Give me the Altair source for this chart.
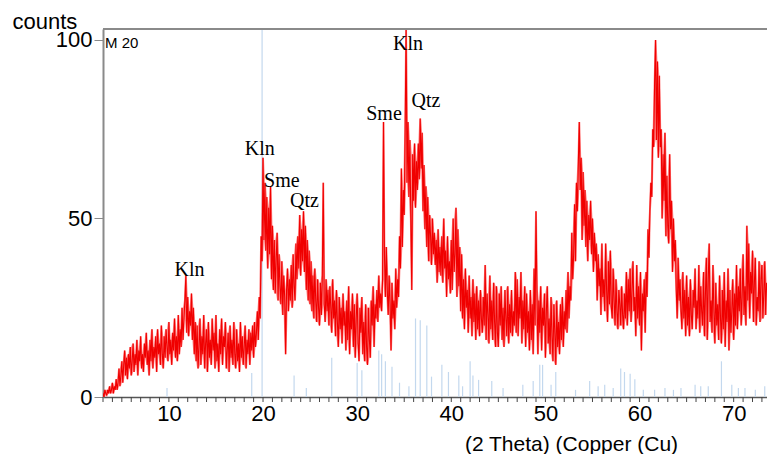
import altair as alt
import pandas as pd

# ---- data (2-theta from 3.0 in steps of 0.1) ----
x_start = 3.0
x_step = 0.1
counts = [
    1, 0, 2, 1, 0.5, 2, 1, 3, 1, 2, 4, 1, 3, 2, 5, 2, 4, 8, 3, 6,
    10, 4, 9, 13, 6, 11, 5, 12, 8, 14, 6, 10, 15, 7, 12, 9, 16, 6, 13, 10,
    17, 8, 12, 7, 15, 11, 18, 9, 13, 6, 16, 10, 19, 8, 14, 11, 17, 7, 19, 12,
    15, 9, 20, 12, 8, 17, 11, 19, 14, 10, 21, 12, 16, 9, 18, 13, 22, 11, 17, 10,
    23, 12, 19, 14, 25, 16, 22, 27, 34, 18, 28, 17, 24, 20, 29, 16, 25, 12, 21, 10,
    20, 8, 14, 22, 9, 17, 12, 23, 8, 15, 19, 7, 21, 11, 16, 9, 22, 13, 18, 8,
    23, 10, 15, 7, 19, 12, 22, 9, 17, 14, 21, 8, 13, 18, 7, 20, 11, 16, 9, 21,
    12, 8, 19, 10, 15, 7, 21, 11, 17, 9, 14, 20, 8, 16, 12, 19, 9, 18, 13, 20,
    11, 21, 14, 18, 24, 16, 28, 22, 45, 38, 67, 44, 60, 41, 56, 36, 53, 40, 59, 33,
    48, 30, 44, 29, 39, 46, 27, 40, 31, 26, 38, 23, 34, 28, 12, 30, 36, 24, 33, 27,
    37, 25, 40, 31, 27, 43, 33, 45, 36, 51, 34, 47, 38, 52, 35, 48, 30, 44, 27, 41,
    26, 38, 24, 34, 22, 36, 27, 21, 33, 25, 20, 32, 23, 34, 60, 26, 21, 33, 24, 30,
    20, 31, 25, 18, 33, 22, 27, 17, 30, 21, 14, 28, 19, 25, 15, 29, 20, 24, 13, 27,
    16, 31, 12, 24, 19, 29, 14, 26, 11, 22, 29, 15, 10, 25, 18, 28, 12, 21, 10, 26,
    14, 9, 25, 16, 11, 27, 20, 31, 14, 26, 22, 30, 21, 34, 25, 29, 24, 33, 77, 40,
    28, 42, 30, 23, 34, 26, 13, 32, 22, 27, 19, 36, 25, 33, 28, 45, 36, 64, 42, 58,
    51, 75, 103, 60, 77, 56, 72, 50, 30, 68, 55, 71, 53, 66, 58, 71, 61, 78, 64, 74,
    52, 65, 47, 59, 42, 56, 38, 51, 45, 37, 50, 40, 46, 37, 44, 32, 47, 35, 42, 34,
    45, 32, 50, 36, 41, 28, 45, 33, 38, 29, 44, 30, 50, 35, 40, 53, 28, 47, 31, 42,
    24, 40, 22, 33, 19, 36, 25, 30, 18, 34, 22, 28, 17, 33, 21, 29, 16, 31, 19, 27,
    17, 30, 22, 18, 28, 20, 37, 16, 29, 23, 15, 34, 19, 27, 16, 32, 21, 14, 31, 18,
    14, 29, 20, 31, 16, 25, 14, 30, 22, 17, 31, 15, 26, 18, 30, 17, 24, 20, 35, 18,
    33, 17, 28, 22, 35, 15, 27, 19, 31, 14, 29, 18, 24, 13, 30, 16, 26, 12, 36, 20,
    52, 30, 12, 27, 18, 31, 13, 25, 20, 29, 11, 24, 31, 15, 22, 12, 28, 17, 10, 26,
    18, 9, 27, 14, 21, 12, 26, 16, 28, 14, 24, 19, 30, 18, 35, 22, 31, 27, 46, 33,
    40, 54, 38, 60, 52, 66, 77, 58, 67, 44, 63, 48, 58, 42, 55, 38, 51, 44, 55, 40,
    50, 35, 46, 38, 43, 27, 40, 31, 36, 23, 43, 28, 33, 24, 43, 30, 21, 38, 26, 41,
    25, 22, 36, 27, 20, 33, 24, 19, 30, 26, 20, 31, 23, 19, 29, 22, 35, 20, 33, 24,
    36, 21, 30, 38, 24, 28, 17, 37, 22, 31, 20, 35, 13, 29, 24, 33, 18, 35, 28, 47,
    39, 52, 60, 56, 75, 70, 88, 100, 72, 94, 67, 90, 70, 75, 50, 68, 55, 74, 45, 62,
    48, 43, 68, 47, 55, 35, 50, 38, 44, 30, 22, 39, 27, 33, 24, 19, 35, 22, 30, 17,
    34, 20, 28, 17, 33, 23, 19, 30, 25, 36, 19, 27, 22, 37, 18, 31, 24, 20, 35, 17,
    29, 39, 16, 33, 43, 21, 27, 18, 37, 24, 15, 32, 20, 26, 16, 34, 22, 15, 30, 19,
    35, 14, 27, 21, 36, 13, 30, 18, 24, 33, 16, 29, 20, 37, 19, 31, 24, 36, 20, 28,
    40, 23, 31, 20, 48, 27, 43, 22, 35, 29, 41, 21, 32, 39, 20, 28, 24, 38, 21, 33,
    37, 22, 29, 38, 23, 32,
]
two_theta = [round(x_start + i * x_step, 2) for i in range(len(counts))]

stick_pos = [9.8, 18.8, 19.9, 23.3, 24.6, 27.3, 30.0, 30.5, 32.3, 32.6, 33.0,
             33.7, 34.5, 35.5, 36.2, 36.7, 37.4, 37.9, 39.0, 39.7, 40.8, 41.2,
             42.0, 42.3, 42.9, 44.3, 45.5, 47.6, 48.7, 49.4, 49.7, 50.6, 51.1,
             53.2, 54.7, 55.6, 56.3, 57.2, 58.0, 58.4, 59.0, 59.5, 60.4, 61.6,
             62.7, 63.6, 64.4, 65.9, 66.5, 67.3, 68.7, 69.8, 70.5, 71.2, 72.3,
             73.3]
stick_h = [2.5, 6.7, 103, 6, 2.5, 11, 9.5, 7.5, 13, 12, 10,
           8.5, 4, 3, 22, 21.5, 20, 5.7, 9, 7, 6, 3,
           10, 6, 4.8, 4.5, 2.5, 3.4, 4.5, 9, 9, 3.4, 7,
           2, 4.5, 3, 3.4, 2.5, 8, 7, 6.5, 5, 2, 2,
           2.5, 2, 2.5, 3.4, 3, 3, 10, 3.4, 2.5, 2.5, 2,
           3]

minor_ticks = list(range(3, 74))

ann_text = ["Kln", "Kln", "Sme", "Qtz", "Sme", "Kln", "Qtz"]
ann_x = [12.2, 19.65, 22.0, 24.4, 32.85, 35.4, 37.3]
ann_y = [33.9, 67.8, 58.8, 53.2, 77.6, 97.2, 81.2]

line_df = pd.DataFrame({"t": two_theta, "c": counts})
stick_df = pd.DataFrame({"t": stick_pos, "h": stick_h, "z": [0] * len(stick_pos)})
tick_df = pd.DataFrame({"t": minor_ticks})
ann_df = pd.DataFrame({"label": ann_text, "t": ann_x, "c": ann_y})

Y_TOP = 103.08
PLOT_H = 368
xscale = alt.Scale(domain=[3, 73.54], nice=False, zero=False)
yscale = alt.Scale(domain=[0, Y_TOP], nice=False)

x_axis = alt.Axis(
    values=[10, 20, 30, 40, 50, 60, 70],
    labelOverlap=False, ticks=False,
    labelPadding=6, labelFontSize=22,
    labelFont="Liberation Sans", labelColor="black",
    domainColor="#555555", domainWidth=1.5, grid=False,
    title="(2 Theta) (Copper (Cu)", titleFont="Liberation Sans",
    titleFontSize=21, titleFontWeight="normal", titleColor="black",
    titleX=468, titleY=53, titleBaseline="alphabetic", titleAlign="center",
)
y_axis = alt.Axis(
    values=[0, 50, 100], tickSize=9, labelPadding=2, labelFontSize=22,
    labelFont="Liberation Sans", labelColor="black", tickColor="#8a8a8a",
    domainColor="#8a8a8a", domainWidth=2, grid=False,
    title="counts", titleFont="Liberation Sans", titleFontSize=22,
    titleFontWeight="normal", titleColor="black", titleAngle=0,
    titleAlign="left", titleBaseline="alphabetic", titleX=-91, titleY=-1,
)

X = alt.X("t:Q", scale=xscale, axis=x_axis)
Y = alt.Y("c:Q", scale=yscale, axis=y_axis)

sticks = alt.Chart(stick_df).mark_rule(color="#c3d8ee", strokeWidth=1.2).encode(
    x=X,
    y=alt.Y("h:Q", scale=yscale, axis=y_axis),
    y2="z:Q",
)

band = alt.Chart(line_df).transform_window(
    hi="max(c)", lo="min(c)", frame=[-1, 1], sort=[{"field": "t"}]
).mark_area(color="#ff1a1a", opacity=0.55, clip=True).encode(
    x=X,
    y=alt.Y("hi:Q", scale=yscale, axis=y_axis),
    y2="lo:Q",
)

line = alt.Chart(line_df).mark_line(color="#f00000", strokeWidth=1.1, clip=True).encode(
    x=X, y=Y,
)

ticks = alt.Chart(tick_df).mark_rule(color="#444444", strokeWidth=1).encode(
    x=X, y=alt.value(PLOT_H), y2=alt.value(PLOT_H + 5),
)

top_rule = alt.Chart(pd.DataFrame({"v": [Y_TOP]})).mark_rule(
    color="#8a8a8a", strokeWidth=2
).encode(y=alt.Y("v:Q", scale=yscale, axis=y_axis))

ann = alt.Chart(ann_df).mark_text(
    font="Liberation Serif", fontSize=20, color="black", baseline="alphabetic"
).encode(x=X, y=Y, text="label:N")

m20 = alt.Chart(pd.DataFrame({"s": ["M 20"]})).mark_text(
    font="Liberation Sans", fontSize=15, color="black", align="left",
    baseline="alphabetic"
).encode(x=alt.value(2), y=alt.value(19), text="s:N")

chart = alt.layer(sticks, band, line, ticks, top_rule, ann, m20).properties(
    width=664, height=PLOT_H,
    autosize=alt.AutoSizeParams(type="none"),
    padding={"left": 95, "top": 21, "right": 0, "bottom": 57},
    background="white",
).configure_view(strokeWidth=0)

chart.save("out.html", embed_options={"renderer": "svg", "actions": False})
